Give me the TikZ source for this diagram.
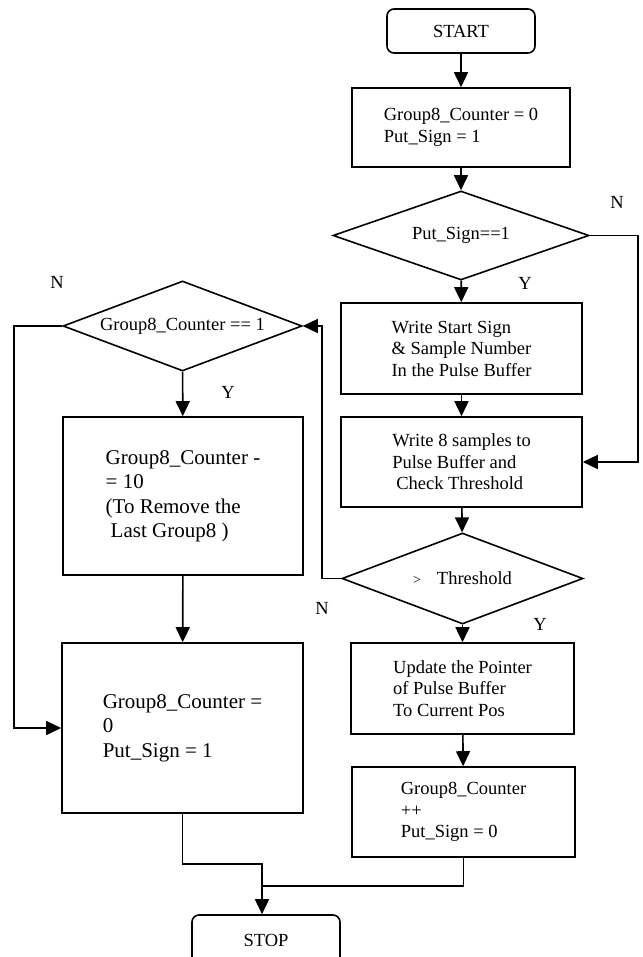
\documentclass[tikz,border=0pt]{standalone}
\usepackage{fontspec}
\setmainfont{Liberation Serif}
\usetikzlibrary{shapes.geometric,arrows.meta}
\newcommand{\rfs}{\fontsize{18.5}{21.5}\selectfont}
\newcommand{\lfs}{\fontsize{21}{24.5}\selectfont}

\begin{document}
\begin{tikzpicture}[x=1pt,y=-1pt,
                    line width=1.6pt,
                    arr/.style={-{Triangle[length=15pt,width=14pt]}},
                    term/.style={draw,rounded corners=7pt,minimum width=148pt,minimum height=44pt,inner sep=0pt,font=\rfs},
                    proc/.style={draw,align=left,inner sep=0pt,font=\rfs},
                    decide/.style={draw,diamond,aspect=2.7,inner sep=0pt,font=\rfs},
                    yn/.style={inner sep=0pt,font=\rfs}]
    \useasboundingbox (0,0) rectangle (642,957);
    % right column
    \node[term] (start) at (461,31) {START};
    \node[proc,minimum width=218pt,minimum height=79pt] (init) at (461,127.5)
        {Group8\_Counter = 0\\Put\_Sign = 1};
    \node[decide,minimum width=256pt,minimum height=89pt] (putsign) at (461,235.5) {Put\_Sign==1};
    \node[proc,minimum width=241pt,minimum height=91pt] (wrstart) at (461.5,348.5)
        {Write Start Sign\\\& Sample Number\\In the Pulse Buffer};
    \node[proc,minimum width=241pt,minimum height=90pt] (wrsamp) at (461.5,462)
        {Write 8 samples to\\Pulse Buffer and\\\hspace*{4pt}Check Threshold};
    \node[decide,minimum width=241pt,minimum height=91pt] (thresh) at (462.5,578.5)
        {{\fontsize{14}{14}\selectfont >}\hspace{16pt}Threshold};
    \node[proc,minimum width=223pt,minimum height=91pt] (update) at (462.5,688.5)
        {Update the Pointer\\of Pulse Buffer\\To Current Pos};
    \node[proc,minimum width=223pt,minimum height=90pt] (incr) at (463.5,812)
        {Group8\_Counter\\++\\Put\_Sign = 0};
    % left column
    \node[decide,minimum width=239pt,minimum height=90pt] (cntone) at (182.5,326) {Group8\_Counter == 1};
    \node[proc,font=\lfs,minimum width=240pt,minimum height=158pt] (remove) at (183,496)
        {Group8\_Counter -\\= 10\\(To Remove the\\\hspace*{5pt}Last Group8 )};
    \node[proc,font=\lfs,minimum width=241pt,minimum height=170pt] (reset) at (182.5,728)
        {Group8\_Counter =\\0\\Put\_Sign = 1};
    \node[term,minimum height=50pt] (stop) at (266,940) {STOP};
    % labels
    \node[yn] (n1) at (617,202) {N};
    \node[yn] (y1) at (525,283) {Y};
    \node[yn] (n2) at (57,282) {N};
    \node[yn] (y2) at (228,392) {Y};
    \node[yn] (n3) at (322,608) {N};
    \node[yn] (y3) at (540,624) {Y};
    \coordinate (merge) at (262,886);

    \draw[arr] (start) -- (init);
    \draw[arr] (init) -- (putsign);
    \draw[arr] (putsign) -- (wrstart);
    \draw[arr] (putsign.east) -- ++(48,0) |- (wrsamp.east);
    \draw[arr] (wrstart) -- (wrsamp);
    \draw[arr] (wrsamp) -- (thresh);
    \draw[arr] (thresh) -- (update);
    \draw[arr] (update) -- (incr);
    \draw[arr] (thresh.west) -- ++(-19,0) |- (cntone.east);
    \draw[arr] (cntone) -- (remove);
    \draw[arr] (remove) -- (reset);
    \draw[arr] (cntone.west) -- ++(-48,0) |- (reset.west);
    \draw (reset.south) -- ++(0,50) -| (merge);
    \draw (incr.south) |- (merge);
    \draw[arr] (merge) -- (merge |- stop.north);
\end{tikzpicture}
\end{document}
